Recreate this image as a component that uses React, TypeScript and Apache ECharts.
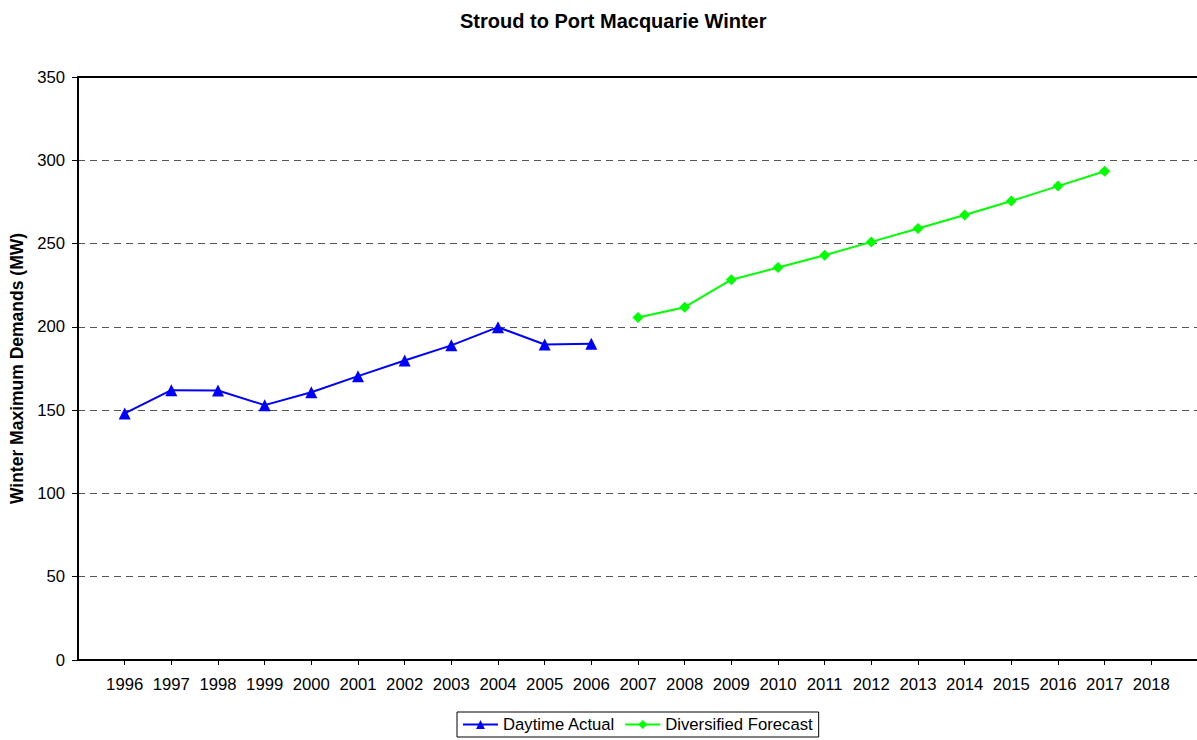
import React, { useEffect, useRef } from "react";
import * as echarts from "echarts";

const years: string[] = [
  "1996", "1997", "1998", "1999", "2000", "2001", "2002", "2003", "2004", "2005", "2006",
  "2007", "2008", "2009", "2010", "2011", "2012", "2013", "2014", "2015", "2016", "2017", "2018",
];
const actualYears: string[] = ["1996", "1997", "1998", "1999", "2000", "2001", "2002", "2003", "2004", "2005", "2006"];
const actualValues: number[] = [148, 162, 161.8, 153, 160.7, 170.4, 179.8, 188.9, 199.8, 189.4, 189.8];
const forecastYears: string[] = ["2007", "2008", "2009", "2010", "2011", "2012", "2013", "2014", "2015", "2016", "2017"];
const forecastValues: number[] = [205.6, 211.8, 228.3, 235.6, 243, 251, 259, 267.2, 275.6, 284.5, 293.4];
const yTicks = { min: 0, max: 350, interval: 50 };

const FONT = "'Liberation Sans', Arial, sans-serif";

export default function App() {
  const ref = useRef<HTMLDivElement>(null);
  useEffect(() => {
    if (!ref.current) return;
    const chart = echarts.init(ref.current, null, { renderer: "svg" });
    // pad with an empty category at each end (plot starts/ends one step beyond the data)
    const cats = ["", ...years, ""];
    const actualData = cats.map((c) => {
      const i = actualYears.indexOf(c);
      return i >= 0 ? actualValues[i] : null;
    });
    const forecastData = cats.map((c) => {
      const i = forecastYears.indexOf(c);
      return i >= 0 ? forecastValues[i] : null;
    });
    chart.setOption({
      animation: false,
      backgroundColor: "#ffffff",
      textStyle: { fontFamily: FONT },
      title: {
        text: "Stroud to Port Macquarie Winter",
        left: 455,
        top: 6,
        textStyle: { fontFamily: FONT, fontWeight: "bold", fontSize: 20, color: "#000" },
      },
      grid: {
        left: 78,
        top: 77,
        right: -1,
        bottom: 80,
        containLabel: false,
        outerBoundsMode: "none",
      },
      xAxis: [
        {
          type: "category",
          data: cats,
          boundaryGap: false,
          axisLine: { lineStyle: { color: "#000", width: 2 } },
          axisTick: {
            length: 5,
            lineStyle: { color: "#000", width: 1 },
            interval: (_i: number, v: string) => v !== "",
          },
          axisLabel: {
            interval: 0,
            margin: 16,
            fontSize: 16.7,
            color: "#000",
            fontFamily: FONT,
          },
          splitLine: { show: false },
        },
        {
          type: "category",
          data: cats,
          position: "top",
          boundaryGap: false,
          axisLine: { lineStyle: { color: "#000", width: 2 } },
          axisTick: { show: false },
          axisLabel: { show: false },
          splitLine: { show: false },
        },
      ],
      yAxis: {
        type: "value",
        min: yTicks.min,
        max: yTicks.max,
        interval: yTicks.interval,
        name: "Winter Maximum Demands (MW)",
        nameLocation: "middle",
        nameGap: 51,
        nameTextStyle: { fontFamily: FONT, fontWeight: "bold", fontSize: 17.5, color: "#000" },
        axisLine: { show: true, lineStyle: { color: "#000", width: 2 } },
        axisTick: { show: true, length: 6, lineStyle: { color: "#000" } },
        axisLabel: { margin: 13, fontSize: 16.7, color: "#000", fontFamily: FONT },
        splitLine: {
          show: true,
          lineStyle: { color: "#555", type: [7, 5], width: 1 },
        },
      },
      legend: {
        left: 457,
        top: 712,
        orient: "horizontal",
        itemWidth: 35,
        itemHeight: 11,
        itemGap: 9,
        padding: [4, 6, 4, 5],
        borderColor: "#000",
        borderWidth: 1,
        borderRadius: 0,
        textStyle: { fontFamily: FONT, fontSize: 16.7, color: "#000" },
        data: ["Daytime Actual", "Diversified Forecast"],
      },
      series: [
        {
          name: "Daytime Actual",
          type: "line",
          xAxisIndex: 0,
          data: actualData,
          symbol: "triangle",
          symbolSize: 12,
          lineStyle: { color: "#0000ff", width: 2 },
          itemStyle: { color: "#0000ff" },
          connectNulls: false,
        },
        {
          name: "Diversified Forecast",
          type: "line",
          xAxisIndex: 0,
          data: forecastData,
          symbol: "diamond",
          symbolSize: 11,
          lineStyle: { color: "#00ff00", width: 2 },
          itemStyle: { color: "#00ff00" },
          connectNulls: false,
        },
      ],
    });
    return () => chart.dispose();
  }, []);
  return (
    <div
      ref={ref}
      style={{ position: "absolute", left: 0, top: 0, width: 1197, height: 740, background: "#fff" }}
    />
  );
}
